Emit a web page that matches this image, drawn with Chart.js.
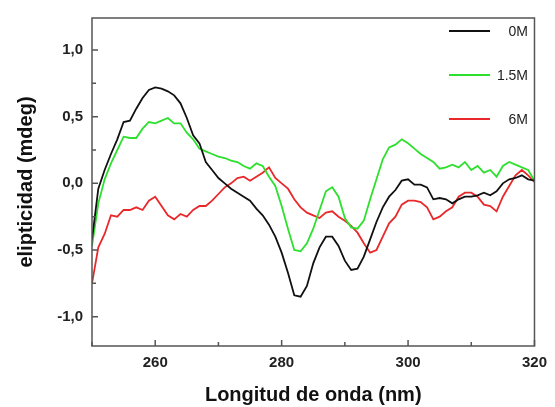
<!DOCTYPE html>
<html>
<head>
<meta charset="utf-8">
<script src="https://cdn.jsdelivr.net/npm/chart.js@4"></script>
<style>
  html, body { margin: 0; padding: 0; background: #fff; }
  #wrap { width: 555px; height: 407px; }
</style>
</head>
<body>
<div id="wrap"><canvas id="cd" width="555" height="407"></canvas></div>
<script>
// wavelength (nm), one point per nm
const wavelengths = [];
for (let w = 250; w <= 320; w++) wavelengths.push(w);

const seriesLabels = ['0M', '1.5M', '6M'];

const cd0M = [
  -0.42, -0.04, 0.10, 0.22, 0.33, 0.46, 0.47, 0.56, 0.64, 0.70,
  0.72, 0.71, 0.69, 0.66, 0.60, 0.49, 0.36, 0.30, 0.16, 0.10,
  0.04, 0.00, -0.04, -0.07, -0.10, -0.13, -0.19, -0.24, -0.31, -0.40,
  -0.52, -0.67, -0.84, -0.85, -0.77, -0.60, -0.48, -0.40, -0.40, -0.47,
  -0.58, -0.65, -0.64, -0.55, -0.42, -0.29, -0.18, -0.10, -0.05, 0.02,
  0.03, -0.01, -0.01, -0.03, -0.12, -0.11, -0.12, -0.15, -0.12, -0.10,
  -0.10, -0.09, -0.07, -0.09, -0.06, 0.00, 0.03, 0.04, 0.06, 0.03,
  0.02
];

const cd15M = [
  -0.47, -0.15, 0.03, 0.15, 0.25, 0.35, 0.34, 0.34, 0.41, 0.46,
  0.45, 0.47, 0.49, 0.45, 0.45, 0.38, 0.33, 0.26, 0.24, 0.22,
  0.20, 0.19, 0.17, 0.16, 0.13, 0.11, 0.15, 0.13, 0.05, -0.02,
  -0.17, -0.34, -0.50, -0.51, -0.45, -0.34, -0.20, -0.06, -0.03, -0.10,
  -0.26, -0.33, -0.34, -0.28, -0.12, 0.03, 0.18, 0.27, 0.29, 0.33,
  0.30, 0.26, 0.22, 0.19, 0.16, 0.11, 0.12, 0.14, 0.12, 0.16,
  0.10, 0.13, 0.08, 0.10, 0.05, 0.13, 0.16, 0.14, 0.12, 0.10,
  0.02
];

const cd6M = [
  -0.75, -0.48, -0.38, -0.24, -0.25, -0.20, -0.20, -0.18, -0.20, -0.13,
  -0.10, -0.17, -0.24, -0.27, -0.23, -0.25, -0.20, -0.17, -0.17, -0.13,
  -0.08, -0.03, 0.00, 0.04, 0.05, 0.02, 0.05, 0.08, 0.12, 0.04,
  0.00, -0.04, -0.12, -0.18, -0.22, -0.24, -0.26, -0.22, -0.21, -0.25,
  -0.28, -0.32, -0.37, -0.45, -0.52, -0.50, -0.40, -0.30, -0.25, -0.16,
  -0.13, -0.13, -0.14, -0.18, -0.27, -0.25, -0.21, -0.18, -0.10, -0.07,
  -0.07, -0.10, -0.16, -0.17, -0.21, -0.10, -0.02, 0.06, 0.10, 0.06,
  0.01
];

const xTicks = [250, 260, 270, 280, 290, 300, 310, 320];
const xLabelTicks = [260, 280, 300, 320];
const yTicks = [-1.0, -0.75, -0.5, -0.25, 0, 0.25, 0.5, 0.75, 1.0];
const yLabelTicks = [-1.0, -0.5, 0, 0.5, 1.0];

const colors = ['#111111', '#2ee02e', '#e8282a'];

function pts(vals) {
  return wavelengths.map((w, i) => ({ x: w, y: vals[i] }));
}

function isLabel(list, v) {
  return list.some(t => Math.abs(t - v) < 1e-6);
}

// frame, inward ticks and the legend inside the plot
const framePlugin = {
  id: 'frame',
  afterDatasetsDraw(chart) {
    const ctx = chart.ctx;
    const a = chart.chartArea;
    const xs = chart.scales.x, ys = chart.scales.y;
    ctx.save();
    ctx.strokeStyle = '#555';
    ctx.lineWidth = 1.5;
    ctx.strokeRect(a.left, a.top, a.right - a.left, a.bottom - a.top);
    ctx.beginPath();
    xs.ticks.forEach(t => {
      const px = xs.getPixelForValue(t.value);
      const len = isLabel(xLabelTicks, t.value) ? 6 : 4;
      ctx.moveTo(px, a.bottom);
      ctx.lineTo(px, a.bottom - len);
    });
    ys.ticks.forEach(t => {
      const py = ys.getPixelForValue(t.value);
      const len = isLabel(yLabelTicks, t.value) ? 6 : 4;
      ctx.moveTo(a.left, py);
      ctx.lineTo(a.left + len, py);
    });
    ctx.stroke();

    // legend
    const rowY = [31, 75, 119];
    ctx.font = '14px "Liberation Sans", Arial, sans-serif';
    ctx.textAlign = 'right';
    ctx.textBaseline = 'middle';
    chart.data.datasets.forEach((ds, i) => {
      ctx.strokeStyle = ds.borderColor;
      ctx.lineWidth = 2;
      ctx.beginPath();
      ctx.moveTo(449, rowY[i]);
      ctx.lineTo(490, rowY[i]);
      ctx.stroke();
      ctx.fillStyle = '#222';
      ctx.fillText(ds.label, 528, rowY[i] + 1);
    });
    ctx.restore();
  }
};

new Chart(document.getElementById('cd'), {
  type: 'line',
  data: {
    datasets: [
      { label: seriesLabels[0], data: pts(cd0M), borderColor: colors[0] },
      { label: seriesLabels[1], data: pts(cd15M), borderColor: colors[1] },
      { label: seriesLabels[2], data: pts(cd6M), borderColor: colors[2] }
    ]
  },
  options: {
    responsive: false,
    animation: false,
    devicePixelRatio: 1,
    layout: { padding: { top: 12, right: 14, left: 0, bottom: 0 } },
    elements: {
      line: { borderWidth: 1.8, tension: 0 },
      point: { radius: 0 }
    },
    plugins: {
      legend: { display: false },
      tooltip: { enabled: false }
    },
    scales: {
      x: {
        type: 'linear',
        min: 250,
        max: 320,
        afterFit(s) { s.height = 61; },
        afterBuildTicks(s) { s.ticks = xTicks.map(v => ({ value: v })); },
        grid: { display: false, drawTicks: false },
        border: { display: false },
        ticks: {
          padding: 8,
          color: '#222',
          font: { family: '"Liberation Sans", Arial, sans-serif', size: 15, weight: 'bold' },
          callback: v => isLabel(xLabelTicks, v) ? String(v) : ''
        },
        title: {
          display: true,
          text: 'Longitud de onda (nm)',
          color: '#111',
          padding: { top: 0, bottom: 0 },
          font: { family: '"Liberation Sans", Arial, sans-serif', size: 20, weight: 'bold' }
        }
      },
      y: {
        type: 'linear',
        min: -1.22,
        max: 1.24,
        afterFit(s) { s.width = 92; },
        afterBuildTicks(s) { s.ticks = yTicks.map(v => ({ value: v })); },
        grid: { display: false, drawTicks: false },
        border: { display: false },
        ticks: {
          padding: 9,
          color: '#222',
          font: { family: '"Liberation Sans", Arial, sans-serif', size: 15, weight: 'bold' },
          callback: v => isLabel(yLabelTicks, v) ? v.toFixed(1).replace('.', ',') : ''
        },
        title: {
          display: true,
          text: 'elipticidad (mdeg)',
          color: '#111',
          padding: { top: 14, bottom: 0 },
          font: { family: '"Liberation Sans", Arial, sans-serif', size: 20, weight: 'bold' }
        }
      }
    }
  },
  plugins: [framePlugin]
});
</script>
</body>
</html>
